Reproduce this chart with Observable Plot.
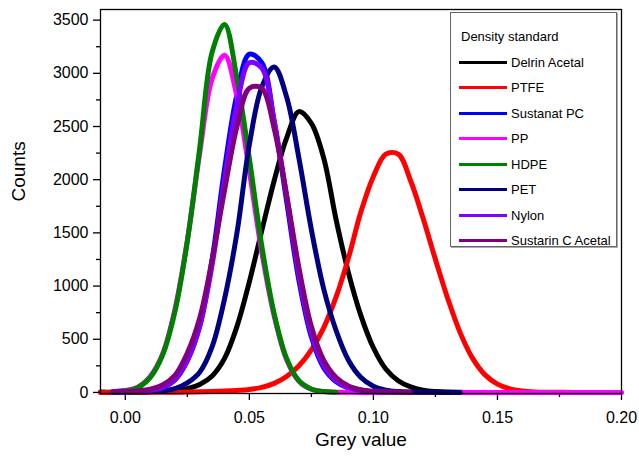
<!DOCTYPE html>
<html>
<head>
<meta charset="utf-8">
<script src="https://cdn.jsdelivr.net/npm/d3@7"></script>
<script src="https://cdn.jsdelivr.net/npm/@observablehq/plot@0.6"></script>
<style>
  html, body { margin: 0; padding: 0; background: #fff; }
  #wrap { position: relative; width: 639px; height: 459px; font-family: "Liberation Sans", Arial, sans-serif; }
  #legend { position: absolute; left: 450px; top: 12px; width: 167px; height: 235px; box-sizing: border-box;
            border: 1px solid #666; background: #fff; box-shadow: 1px 1px 0 #aaa; }
  #legend .title { position: absolute; left: 10px; top: 16px; font-size: 13px; color: #000; }
  #legend .row { position: absolute; left: 8px; height: 14px; font-size: 13px; color: #000; display: flex; align-items: center; }
  #legend .sw { width: 48px; height: 3px; margin-right: 4px; }
</style>
</head>
<body>
<div id="wrap"></div>
<script>
// Grey value grid (x) shared by all series
const greyValues = [-0.010,-0.005,0.000,0.005,0.010,0.015,0.020,0.025,0.030,0.035,0.040,0.045,0.050,0.055,0.060,0.065,0.070,0.075,0.080,0.085,0.090,0.095,0.100,0.105,0.110,0.115,0.120,0.125,0.130,0.135,0.140,0.145,0.150,0.155,0.160,0.165,0.170,0.175,0.180,0.185,0.190,0.195,0.200];

const seriesNames = ["Delrin Acetal","PTFE","Sustanat PC","PP","HDPE","PET","Nylon","Sustarin C Acetal"];
const seriesColors = ["#000000","#ff0000","#0000ff","#ff00ff","#008000","#000080","#8000ff","#800080"];

const delrinAcetal = [3,3,4,5,6,8,15,35,75,155,320,620,1040,1520,1990,2390,2640,2530,2200,1620,1120,720,420,220,110,52,22,9,3,1,0,null,null,null,null,null,null,null,null,null,null,null,null];
const ptfe = [0,0,0,0,1,1,2,4,6,9,13,19,28,48,85,150,250,400,610,900,1270,1700,2030,2240,2240,1990,1640,1250,880,560,320,165,78,34,14,5,2,1,0,null,null,null,null];
const sustanatPC = [null,3,5,10,18,45,120,300,630,1250,2100,2800,3180,3100,2550,1800,1050,520,230,100,40,15,6,3,2,null,null,null,null,null,null,null,null,null,null,null,null,null,null,null,null,null,null];
const pp = [null,8,18,50,150,360,780,1430,2250,2950,3170,2780,2080,1320,720,310,105,30,8,2,1,0,0,0,0,0,0,0,0,0,0,0,0,0,0,0,0,0,0,0,0,0,0];
const hdpe = [null,8,15,45,140,350,760,1420,2300,3200,3460,2950,2200,1380,740,320,110,32,8,2,null,null,null,null,null,null,null,null,null,null,null,null,null,null,null,null,null,null,null,null,null,null,null];
const pet = [null,2,3,5,8,15,35,90,190,430,880,1500,2330,2870,3060,2780,2200,1530,970,580,300,140,58,22,8,3,1,1,0,0,null,null,null,null,null,null,null,null,null,null,null,null,null];
const nylon = [null,3,5,10,18,45,120,300,620,1200,2000,2700,3100,3050,2550,1850,1100,550,250,110,45,18,8,4,2,null,null,null,null,null,null,null,null,null,null,null,null,null,null,null,null,null,null];
const sustarinCAcetal = [null,5,8,15,30,70,160,370,700,1250,1900,2500,2860,2860,2480,1860,1170,620,300,140,60,25,10,5,3,2,null,null,null,null,null,null,null,null,null,null,null,null,null,null,null,null,null];

const xTicks = [0, 0.05, 0.10, 0.15, 0.20];
const xMinorTicks = [0.025, 0.075, 0.125, 0.175];
const yTicks = [0, 500, 1000, 1500, 2000, 2500, 3000, 3500];
const yMinorTicks = [250, 750, 1250, 1750, 2250, 2750, 3250];

const allValues = [delrinAcetal, ptfe, sustanatPC, pp, hdpe, pet, nylon, sustarinCAcetal];
const rows = seriesNames.flatMap((name, k) =>
  greyValues.map((g, i) => ({grey: g, count: allValues[k][i], name})).filter(d => d.count != null)
);

const chart = Plot.plot({
  width: 639,
  height: 459,
  marginLeft: 100,
  marginRight: 18,
  marginTop: 9,
  marginBottom: 66,
  style: {fontFamily: "Liberation Sans, Arial, sans-serif", fontSize: "16px", color: "#000", background: "#fff"},
  x: {domain: [-0.01, 0.20]},
  y: {domain: [-10, 3600]},
  color: {domain: seriesNames, range: seriesColors},
  marks: [
    Plot.line(rows, {x: "grey", y: "count", z: "name", stroke: "name", strokeWidth: 5, curve: "catmull-rom", strokeLinejoin: "round"}),
    Plot.frame({stroke: "#000", strokeWidth: 1.3}),
    Plot.axisX(xTicks, {tickSize: 7, tickPadding: 11, tickFormat: d3.format(".2f"), fontSize: 16, label: null, stroke: "#000", strokeWidth: 1.3}),
    Plot.axisX(xMinorTicks, {tickSize: 4, tickFormat: () => "", label: null, stroke: "#000", strokeWidth: 1.3}),
    Plot.axisY(yTicks, {tickSize: 7, tickPadding: 5, fontSize: 16, label: null, tickFormat: d3.format("d"), stroke: "#000", strokeWidth: 1.3}),
    Plot.axisY(yMinorTicks, {tickSize: 4, tickFormat: () => "", label: null, stroke: "#000", strokeWidth: 1.3}),
    Plot.text(["Grey value"], {frameAnchor: "bottom", dy: 52, fontSize: 19, fill: "#000"}),
    Plot.text(["Counts"], {frameAnchor: "left", dx: -82, rotate: -90, fontSize: 19, fill: "#000"})
  ]
});

const wrap = document.getElementById("wrap");
wrap.appendChild(chart);

const legend = document.createElement("div");
legend.id = "legend";
const title = document.createElement("div");
title.className = "title";
title.textContent = "Density standard";
legend.appendChild(title);
seriesNames.forEach((name, i) => {
  const row = document.createElement("div");
  row.className = "row";
  row.style.top = (42 + i * 25.5) + "px";
  const sw = document.createElement("div");
  sw.className = "sw";
  sw.style.background = seriesColors[i];
  const label = document.createElement("span");
  label.textContent = name;
  row.appendChild(sw);
  row.appendChild(label);
  legend.appendChild(row);
});
wrap.appendChild(legend);
</script>
</body>
</html>
